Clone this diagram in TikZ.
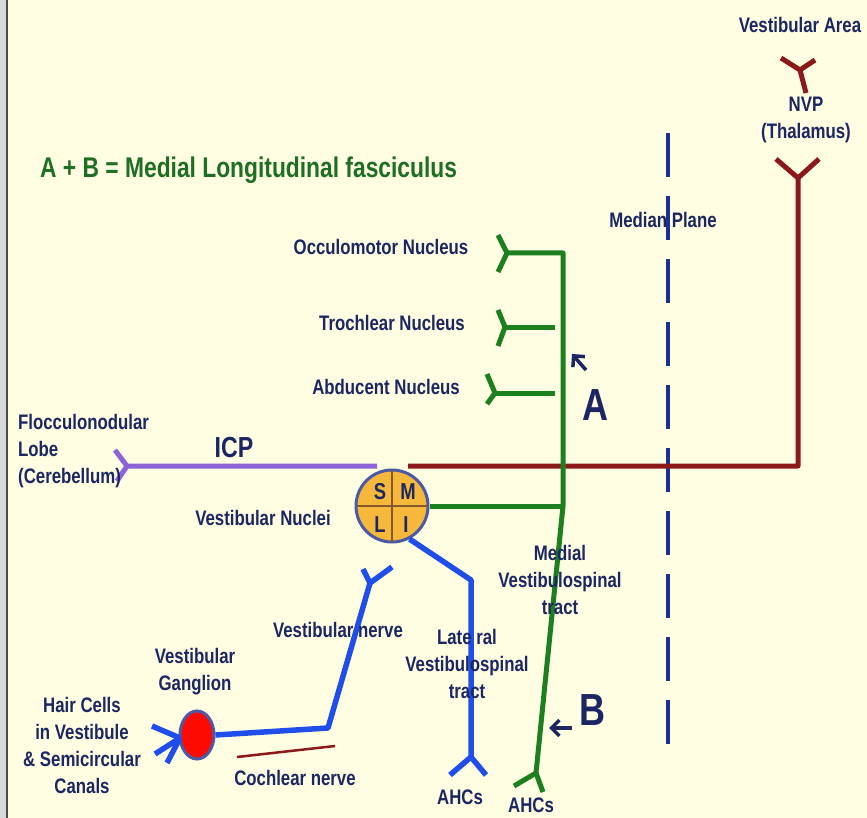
\documentclass[tikz,border=0pt]{standalone}
\usepackage{fontspec}
\setmainfont{Liberation Sans}[FakeStretch=0.8]
\usetikzlibrary{arrows.meta,shapes.geometric}
\definecolor{cream}{RGB}{255,253,226}
\definecolor{navy}{RGB}{27,38,99}
\definecolor{tractgreen}{RGB}{28,128,30}
\definecolor{titlegreen}{RGB}{30,110,35}
\definecolor{nerveblue}{RGB}{32,78,235}
\definecolor{darkred}{RGB}{140,25,25}
\definecolor{icppurple}{RGB}{140,100,215}
\definecolor{nucorange}{RGB}{246,184,58}
\definecolor{rimblue}{RGB}{75,90,165}
\definecolor{planeblue}{RGB}{25,50,145}
\begin{document}
\begin{tikzpicture}[x=1pt,y=-1pt,
  lbl/.style={text=navy,font=\bfseries\fontsize{21}{27}\selectfont,align=center,inner sep=0pt},
  biglbl/.style={text=navy,font=\bfseries\fontsize{45}{45}\selectfont,inner sep=0pt},
  quad/.style={text=navy,font=\bfseries\fontsize{23}{23}\selectfont,inner sep=0pt},
  greentract/.style={draw=tractgreen,line width=5pt,line join=round},
  bluetract/.style={draw=nerveblue,line width=5.5pt,line join=round},
  redtract/.style={draw=darkred,line width=5pt,line join=round},
  icptract/.style={draw=icppurple,line width=5pt,line join=round},
  pointer/.style={draw=navy,line width=3.5pt,-{Straight Barb[length=8pt,width=16pt]}}]
\useasboundingbox (0,0) rectangle (867,818);
\fill[cream] (0,0) rectangle (867,818);
\fill[gray!30] (0,0) rectangle (7,818);
\draw[gray!60!black,line width=1.2pt] (7,0) -- (7,818);

% median plane
\draw[planeblue,line width=4pt,dash pattern=on 44pt off 19pt] (668,133) -- (668,752);

% vestibular nuclei
\node[circle,draw=rimblue,fill=nucorange,line width=3pt,minimum size=72pt,inner sep=0pt] (vn) at (392,506) {};
\draw[brown!70!black,line width=2pt,shorten <=2pt,shorten >=2pt] (vn.north) -- (vn.south);
\draw[brown!70!black,line width=2pt,shorten <=2pt,shorten >=2pt] (vn.west) -- (vn.east);
\node[quad] (qs) at (380,492) {S};
\node[quad] (qm) at (408,492) {M};
\node[quad] (ql) at (380,525) {L};
\node[quad] (qi) at (406,525) {I};

% pathway to thalamus and cortex
\coordinate (vaL) at (781,58);
\coordinate (vaR) at (815,60);
\coordinate (vaJ) at (800,70);
\coordinate (vaS) at (806,93);
\draw[redtract] (vaL) -- (vaJ) -- (vaS);
\draw[redtract] (vaR) -- (vaJ);
\coordinate (nvpL) at (776,159);
\coordinate (nvpR) at (819,159);
\coordinate (nvpJ) at (798,178);
\coordinate (nvpC) at (798,466);
\coordinate (redE) at (408,466);
\draw[redtract] (nvpL) -- (nvpJ) -- (nvpC) -- (redE);
\draw[redtract] (nvpR) -- (nvpJ);

% ICP
\coordinate (icpE) at (377,466);
\coordinate (icpJ) at (127,466);
\coordinate (icpU) at (115,450);
\coordinate (icpD) at (117,481);
\draw[icptract] (icpE) -- (icpJ) -- (icpU);
\draw[icptract] (icpJ) -- (icpD);

% medial longitudinal fasciculus
\coordinate (ocJ) at (507,253);
\coordinate (ocU) at (498,235);
\coordinate (ocD) at (498,272);
\coordinate (mlfT) at (563,253);
\coordinate (mlfM) at (563,506);
\coordinate (ahcJ) at (536,773);
\coordinate (ahcL) at (514,786);
\coordinate (ahcR) at (543,792);
\draw[greentract] (ocU) -- (ocJ) -- (mlfT) -- (mlfM) -- (ahcJ) -- (ahcL);
\draw[greentract] (ocD) -- (ocJ);
\draw[greentract] (ahcJ) -- (ahcR);
\draw[greentract] (vn.east) -- (mlfM);
\coordinate (trJ) at (505,327);
\coordinate (trE) at (555,327);
\draw[greentract] (498,310) -- (trJ) -- (498,346);
\draw[greentract] (trJ) -- (trE);
\coordinate (abJ) at (495,393);
\coordinate (abE) at (555,393);
\draw[greentract] (487,374) -- (abJ) -- (487,404);
\draw[greentract] (abJ) -- (abE);

% lateral vestibulospinal tract
\coordinate (lvC) at (471,580);
\coordinate (lvJ) at (471,757);
\draw[bluetract] (vn.-62) -- (lvC) -- (lvJ) -- (450,775);
\draw[bluetract] (lvJ) -- (486,775);

% ganglion and vestibular nerve
\node[ellipse,draw=rimblue,fill=red!92!orange,line width=3pt,minimum width=34pt,minimum height=48pt,inner sep=0pt] (gang) at (197,735) {};
\coordinate (vnC) at (328,728);
\coordinate (vnJ) at (370,583);
\draw[bluetract] (gang.east) -- (vnC) -- (vnJ) -- (363,569);
\draw[bluetract] (vnJ) -- (392,567);
\coordinate (hcT) at (180,738);
\draw[bluetract] (152,726) -- (hcT);
\draw[bluetract] (155,754) -- (hcT);
\draw[bluetract] (167,763) -- (hcT);
\coordinate (cnL) at (237,757);
\coordinate (cnR) at (335,746);
\draw[darkred,line width=2.5pt] (cnL) -- (cnR);

% pointers
\coordinate (aT) at (586,370);
\coordinate (aH) at (572,354);
\draw[pointer] (aT) -- (aH);
\coordinate (bT) at (572,728);
\coordinate (bH) at (549,728);
\draw[pointer] (bT) -- (bH);

% labels
\node[lbl] (varea) at (800,25) {Vestibular Area};
\node[lbl] (nvp) at (806,120) {NVP\\(Thalamus)};
\node[lbl,anchor=west,text=titlegreen,font=\bfseries\fontsize{28.5}{29}\selectfont] (title) at (40,170) {A + B = Medial Longitudinal fasciculus};
\node[lbl] (median) at (663,220) {Median Plane};
\node[lbl] (occ) at (381,247) {Occulomotor Nucleus};
\node[lbl] (troch) at (392,323) {Trochlear Nucleus};
\node[lbl] (abd) at (386,387) {Abducent Nucleus};
\node[biglbl] (lblA) at (595,405) {A};
\node[biglbl] (lblB) at (592,710) {B};
\node[lbl,anchor=west,align=left] (floc) at (18,451) {Flocculonodular\\Lobe\\(Cerebellum)};
\node[lbl,font=\bfseries\fontsize{29}{29}\selectfont] (icp) at (234,448) {ICP};
\node[lbl] (vnuc) at (263,518) {Vestibular Nuclei};
\node[lbl] (mvst) at (560,580) {Medial\\Vestibulospinal\\tract};
\node[lbl] (vnerve) at (338,630) {Vestibular nerve};
\node[lbl] (lvst) at (467,664) {Late ral\\Vestibulospinal\\tract};
\node[lbl] (vg) at (195,672) {Vestibular\\Ganglion};
\node[lbl] (hair) at (82,745) {Hair Cells\\in Vestibule\\\& Semicircular\\Canals};
\node[lbl] (cochlear) at (295,778) {Cochlear nerve};
\node[lbl] (ahcA) at (460,797) {AHCs};
\node[lbl] (ahcB) at (531,805) {AHCs};
\end{tikzpicture}
\end{document}
